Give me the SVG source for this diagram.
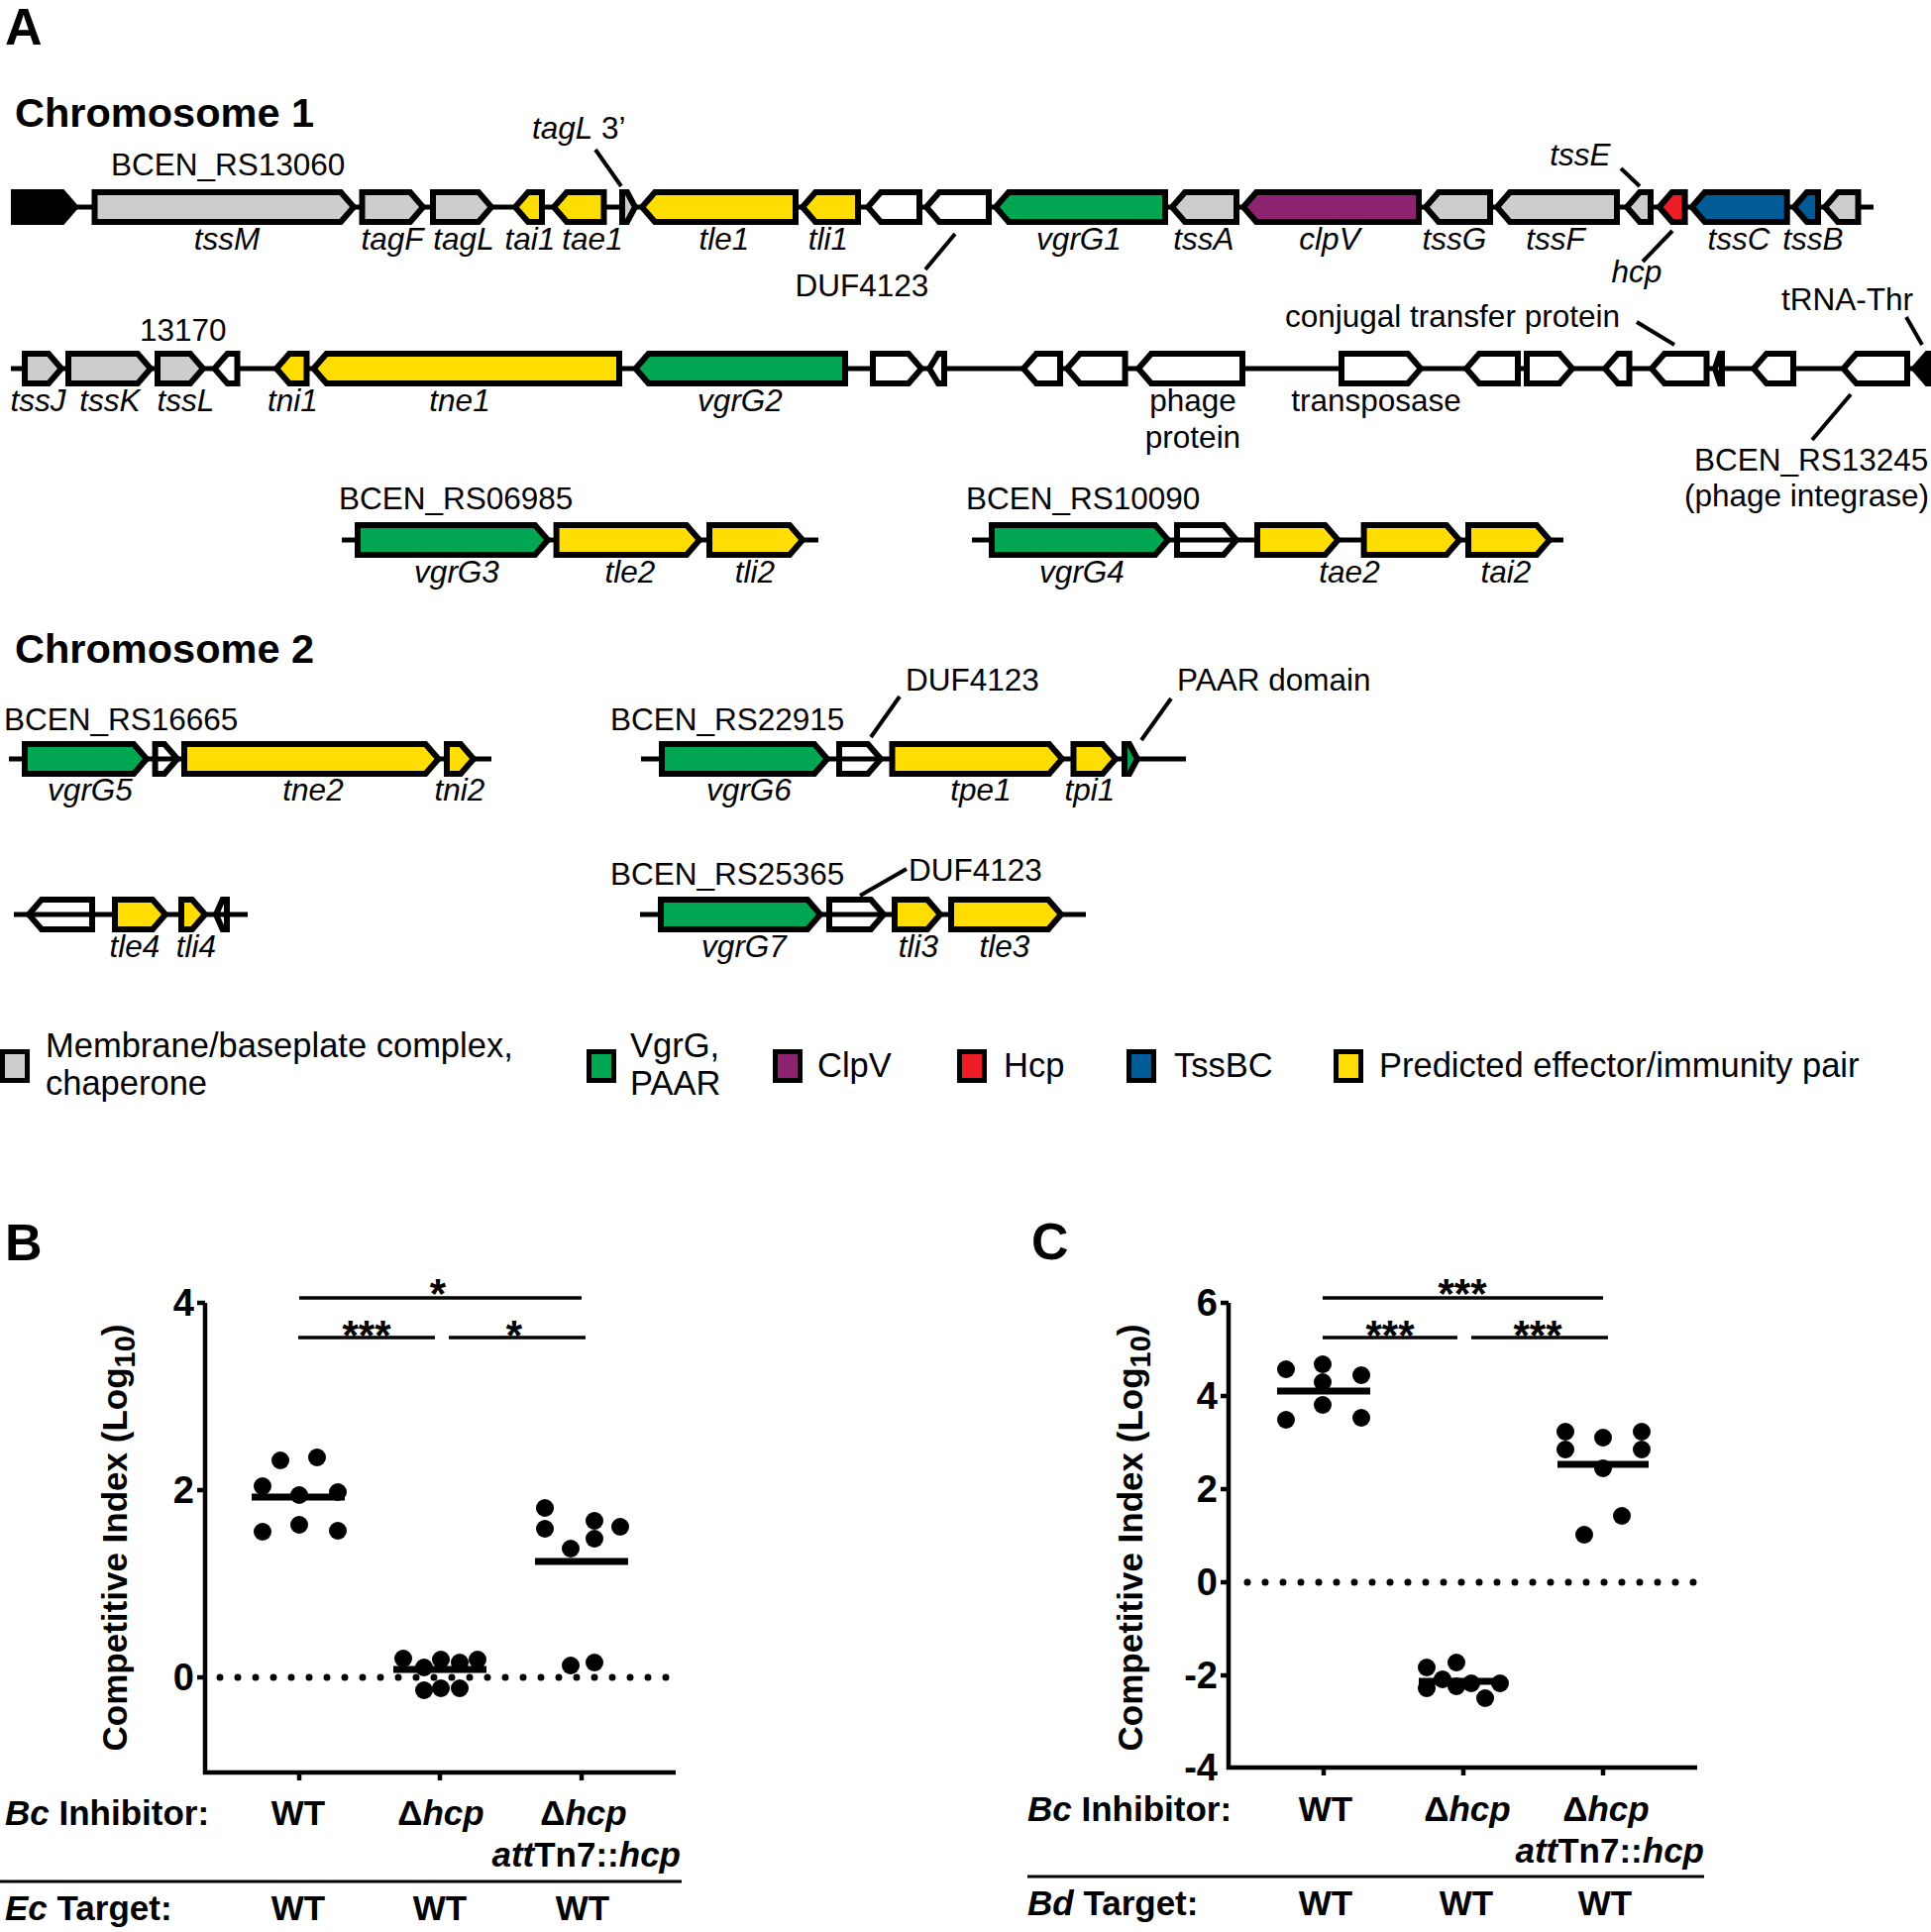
<svg xmlns="http://www.w3.org/2000/svg" width="1949" height="1950" viewBox="0 0 1949 1950">
<style>
.g{stroke:#000;stroke-width:6;stroke-linejoin:miter}
.gray{fill:#cdcdcd}.yel{fill:#ffdd00}.grn{fill:#00a651}.pur{fill:#8c2270}.red{fill:#ee1c25}.blu{fill:#005b96}.wht{fill:#fff}.hol{fill:none}.blk{fill:#000}
.bb{stroke:#000;stroke-width:5}
.lead{stroke:#000;stroke-width:4}
text{font-family:"Liberation Sans",Arial,sans-serif;fill:#000}
.lbl{font-size:31.5px}
.gl{font-size:31.5px;font-style:italic;text-anchor:middle}
.it{font-style:italic}
.hd{font-size:41.5px;font-weight:bold}
.pn{font-size:52px;font-weight:bold}
.lg{font-size:34.5px}
.ax{stroke:#000;stroke-width:4.5;fill:none}
.mean{stroke:#000;stroke-width:7}
.sig{stroke:#000;stroke-width:3.5}
.dot{stroke:#000;stroke-width:7;stroke-linecap:round;stroke-dasharray:0 18}
.pt{fill:#000}
.pl{font-size:35px;font-weight:bold}
.tk{font-size:38px;font-weight:bold;text-anchor:end}
.st{font-size:42px;font-weight:bold;text-anchor:middle}
.mid{text-anchor:middle}
.end{text-anchor:end}
.sw{stroke:#000;stroke-width:5}
</style>

<text class="pn" x="5" y="45" font-size="50">A</text>
<text class="hd" x="15" y="128">Chromosome 1</text>
<text class="hd" x="15" y="669" font-size="42.5">Chromosome 2</text>

<g id="backbones">
<line class="bb" x1="11" y1="209" x2="1891" y2="209"/>
<line class="bb" x1="11" y1="372" x2="1949" y2="372"/>
<line class="bb" x1="345" y1="545" x2="826" y2="545"/>
<line class="bb" x1="981" y1="545" x2="1578" y2="545"/>
<line class="bb" x1="9" y1="766" x2="496" y2="766"/>
<line class="bb" x1="647" y1="766" x2="1197" y2="766"/>
<line class="bb" x1="14" y1="923" x2="250" y2="923"/>
<line class="bb" x1="646" y1="923" x2="1096" y2="923"/>
</g>

<g id="row1">
<polygon id="r1-black" class="g blk" points="14,194 63,194 76,209 63,224 14,224"/>
<polygon id="tssM" class="g gray" points="95.5,194 344,194 357,209 344,224 95.5,224"/>
<polygon id="tagF" class="g gray" points="365.5,194 414,194 427,209 414,224 365.5,224"/>
<polygon id="tagL" class="g gray" points="437,194 483,194 496,209 483,224 437,224"/>
<polygon id="tai1" class="g yel" points="520,209 533,194 547,194 547,224 533,224"/>
<polygon id="tae1" class="g yel" points="559,209 572,194 609.5,194 609.5,224 572,224"/>
<polygon id="tagL3" class="g gray" points="628,194 633,194 641,209 633,224 628,224"/>
<polygon id="tle1" class="g yel" points="648,209 661,194 803,194 803,224 661,224"/>
<polygon id="tli1" class="g yel" points="810,209 823,194 866,194 866,224 823,224"/>
<polygon id="r1-w1" class="g wht" points="876,209 889,194 928,194 928,224 889,224"/>
<polygon id="duf1" class="g wht" points="935,209 948,194 998,194 998,224 948,224"/>
<polygon id="vgrG1" class="g grn" points="1005,209 1018,194 1176,194 1176,224 1018,224"/>
<polygon id="tssA" class="g gray" points="1183,209 1196,194 1248,194 1248,224 1196,224"/>
<polygon id="clpV" class="g pur" points="1255,209 1268,194 1432,194 1432,224 1268,224"/>
<polygon id="tssG" class="g gray" points="1439,209 1452,194 1504,194 1504,224 1452,224"/>
<polygon id="tssF" class="g gray" points="1511,209 1524,194 1632,194 1632,224 1524,224"/>
<polygon id="tssE" class="g gray" points="1642,209 1655,194 1666,194 1666,224 1655,224"/>
<polygon id="hcp" class="g red" points="1674.6,209 1687.6,194 1700.6,194 1700.6,224 1687.6,224"/>
<polygon id="tssC" class="g blu" points="1707.6,209 1720.6,194 1803.7,194 1803.7,224 1720.6,224"/>
<polygon id="tssB" class="g blu" points="1810.7,209 1823.7,194 1835,194 1835,224 1823.7,224"/>
<polygon id="r1-g" class="g gray" points="1842,209 1855,194 1875.5,194 1875.5,224 1855,224"/>
<text class="lbl" x="112" y="177">BCEN_RS13060</text>
<text class="lbl" x="537" y="140"><tspan class="it">tagL</tspan> 3’</text>
<text class="gl" x="229" y="252">tssM</text>
<text class="gl" x="396" y="252">tagF</text>
<text class="gl" x="468" y="252">tagL</text>
<text class="gl" x="535" y="252">tai1</text>
<text class="gl" x="598" y="252">tae1</text>
<text class="gl" x="731" y="252">tle1</text>
<text class="gl" x="836" y="252">tli1</text>
<text class="gl" x="1089" y="252">vgrG1</text>
<text class="gl" x="1215" y="252">tssA</text>
<text class="gl" x="1342" y="252">clpV</text>
<text class="gl" x="1468" y="252">tssG</text>
<text class="gl" x="1570" y="252">tssF</text>
<text class="gl" x="1755" y="252">tssC</text>
<text class="gl" x="1830" y="252">tssB</text>
<text class="gl" x="1595" y="167">tssE</text>
<text class="gl" x="1652" y="285">hcp</text>
<text class="lbl mid" x="870" y="299">DUF4123</text>
</g>

<g id="row2">
<polygon id="tssJ" class="g gray" points="25,357 49,357 62,372 49,387 25,387"/>
<polygon id="tssK" class="g gray" points="69,357 139,357 152,372 139,387 69,387"/>
<polygon id="tssL" class="g gray" points="159,357 192,357 205,372 192,387 159,387"/>
<polygon id="r2-w0" class="g wht" points="216.5,372 229.5,357 239.5,357 239.5,387 229.5,387"/>
<polygon id="tni1" class="g yel" points="279,372 292,357 309.5,357 309.5,387 292,387"/>
<polygon id="tne1" class="g yel" points="316.5,372 329.5,357 625,357 625,387 329.5,387"/>
<polygon id="vgrG2" class="g grn" points="641.5,372 654.5,357 853,357 853,387 654.5,387"/>
<polygon id="r2-w1" class="g wht" points="881,357 917,357 930,372 917,387 881,387"/>
<polygon id="r2-w2" class="g wht" points="938,372 947,357 953,357 953,387 947,387"/>
<polygon id="r2-w3" class="g wht" points="1033,372 1046,357 1070,357 1070,387 1046,387"/>
<polygon id="r2-w4" class="g wht" points="1077,372 1090,357 1135.6,357 1135.6,387 1090,387"/>
<polygon id="phage" class="g wht" points="1149,372 1162,357 1254,357 1254,387 1162,387"/>
<polygon id="transposase" class="g wht" points="1354,357 1421,357 1434,372 1421,387 1354,387"/>
<polygon id="r2-w5" class="g wht" points="1480,372 1493,357 1532,357 1532,387 1493,387"/>
<polygon id="r2-w6" class="g wht" points="1541,357 1574,357 1587,372 1574,387 1541,387"/>
<polygon id="r2-w7" class="g wht" points="1620,372 1633,357 1644.5,357 1644.5,387 1633,387"/>
<polygon id="conjugal" class="g wht" points="1667,372 1680,357 1722.5,357 1722.5,387 1680,387"/>
<polygon id="r2-w8" class="g wht" points="1731,372 1736,357 1738,357 1738,387 1736,387"/>
<polygon id="r2-w9" class="g wht" points="1770,372 1783,357 1810,357 1810,387 1783,387"/>
<polygon id="RS13245" class="g wht" points="1860.6,372 1873.6,357 1925,357 1925,387 1873.6,387"/>
<polygon id="tRNA" class="g blk" points="1932,372 1945,357 1960,357 1960,387 1945,387"/>
<text class="lbl" x="141" y="344">13170</text>
<text class="gl" x="38.5" y="415">tssJ</text>
<text class="gl" x="111" y="415">tssK</text>
<text class="gl" x="187.5" y="415">tssL</text>
<text class="gl" x="295.5" y="415">tni1</text>
<text class="gl" x="464" y="415">tne1</text>
<text class="gl" x="747" y="415">vgrG2</text>
<text class="lbl mid" x="1204" y="415">phage</text>
<text class="lbl mid" x="1204" y="452">protein</text>
<text class="lbl mid" x="1389" y="415">transposase</text>
<text class="lbl" x="1297" y="330">conjugal transfer protein</text>
<text class="lbl" x="1798" y="313">tRNA-Thr</text>
<text class="lbl" x="1710" y="475">BCEN_RS13245</text>
<text class="lbl" x="1700" y="511">(phage integrase)</text>
</g>

<g id="row3">
<polygon id="vgrG3" class="g grn" points="361,530 540,530 553,545 540,560 361,560"/>
<polygon id="tle2" class="g yel" points="561.6,530 693,530 706,545 693,560 561.6,560"/>
<polygon id="tli2" class="g yel" points="716,530 797,530 810,545 797,560 716,560"/>
<polygon id="vgrG4" class="g grn" points="1001,530 1166,530 1179,545 1166,560 1001,560"/>
<polygon id="r3-h" class="g hol" points="1188,530 1235,530 1248,545 1235,560 1188,560"/>
<polygon id="tae2" class="g yel" points="1269,530 1337.5,530 1350.5,545 1337.5,560 1269,560"/>
<polygon id="r3-y" class="g yel" points="1376.6,530 1460,530 1473,545 1460,560 1376.6,560"/>
<polygon id="tai2" class="g yel" points="1482,530 1551,530 1564,545 1551,560 1482,560"/>
<text class="lbl" x="342" y="514">BCEN_RS06985</text>
<text class="lbl" x="975" y="514">BCEN_RS10090</text>
<text class="gl" x="461" y="588">vgrG3</text>
<text class="gl" x="636" y="588">tle2</text>
<text class="gl" x="762" y="588">tli2</text>
<text class="gl" x="1092" y="588">vgrG4</text>
<text class="gl" x="1362" y="588">tae2</text>
<text class="gl" x="1520" y="588">tai2</text>
</g>

<g id="chr2row1">
<polygon id="vgrG5" class="g grn" points="25,751 135,751 148,766 135,781 25,781"/>
<polygon id="c2-h1" class="g hol" points="156.6,751 166,751 179,766 166,781 156.6,781"/>
<polygon id="tne2" class="g yel" points="186,751 429.5,751 442.5,766 429.5,781 186,781"/>
<polygon id="tni2" class="g yel" points="451,751 465,751 478,766 465,781 451,781"/>
<polygon id="vgrG6" class="g grn" points="668,751 822,751 835,766 822,781 668,781"/>
<polygon id="c2-duf" class="g hol" points="847,751 876,751 889,766 876,781 847,781"/>
<polygon id="tpe1" class="g yel" points="900.5,751 1059,751 1072,766 1059,781 900.5,781"/>
<polygon id="tpi1" class="g yel" points="1083.5,751 1113,751 1126,766 1113,781 1083.5,781"/>
<polygon id="paar" class="g grn" points="1135,751 1140,751 1148,766 1140,781 1135,781"/>
<text class="lbl" x="4" y="737">BCEN_RS16665</text>
<text class="lbl" x="616" y="737">BCEN_RS22915</text>
<text class="lbl" x="914" y="697">DUF4123</text>
<text class="lbl" x="1188" y="697">PAAR domain</text>
<text class="gl" x="91" y="808">vgrG5</text>
<text class="gl" x="316" y="808">tne2</text>
<text class="gl" x="464" y="808">tni2</text>
<text class="gl" x="756" y="808">vgrG6</text>
<text class="gl" x="990" y="808">tpe1</text>
<text class="gl" x="1100" y="808">tpi1</text>
</g>

<g id="chr2row2">
<polygon id="r4-h1" class="g hol" points="29,923 42,908 93,908 93,938 42,938"/>
<polygon id="tle4" class="g yel" points="116,908 154,908 167,923 154,938 116,938"/>
<polygon id="tli4" class="g yel" points="183,908 194,908 207,923 194,938 183,938"/>
<polygon id="r4-h2" class="g hol" points="218,923 224.6,908 229,908 229,938 224.6,938"/>
<polygon id="vgrG7" class="g grn" points="667,908 815,908 828,923 815,938 667,938"/>
<polygon id="r4-duf" class="g hol" points="837,908 879,908 892,923 879,938 837,938"/>
<polygon id="tli3" class="g yel" points="903,908 936,908 949,923 936,938 903,938"/>
<polygon id="tle3" class="g yel" points="960,908 1058,908 1071,923 1058,938 960,938"/>
<text class="lbl" x="616" y="893">BCEN_RS25365</text>
<text class="lbl" x="917" y="889">DUF4123</text>
<text class="gl" x="136" y="966">tle4</text>
<text class="gl" x="198" y="966">tli4</text>
<text class="gl" x="751" y="966">vgrG7</text>
<text class="gl" x="927" y="966">tli3</text>
<text class="gl" x="1014" y="966">tle3</text>
</g>

<g id="connectors">
<line class="lead" x1="601" y1="151" x2="627" y2="188"/>
<line class="lead" x1="964" y1="236" x2="934" y2="272"/>
<line class="lead" x1="1636" y1="170" x2="1655" y2="188"/>
<line class="lead" x1="1688" y1="233" x2="1658" y2="264"/>
<line class="lead" x1="1652" y1="325" x2="1690" y2="348"/>
<line class="lead" x1="1924" y1="320" x2="1940" y2="348"/>
<line class="lead" x1="1868" y1="398" x2="1829" y2="444"/>
<line class="lead" x1="908" y1="703" x2="879" y2="744"/>
<line class="lead" x1="1182" y1="705" x2="1152" y2="747"/>
<line class="lead" x1="915" y1="877" x2="868" y2="904"/>
</g>

<g id="legend">
<rect class="sw gray" x="2.5" y="1061.5" width="25" height="29"/>
<text class="lg" x="46" y="1067">Membrane/baseplate complex,</text>
<text class="lg" x="46" y="1105">chaperone</text>
<rect class="sw grn" x="594.5" y="1061.5" width="25" height="29"/>
<text class="lg" x="636" y="1067">VgrG,</text>
<text class="lg" x="636" y="1105">PAAR</text>
<rect class="sw pur" x="782.5" y="1061.5" width="25" height="29"/>
<text class="lg" x="825" y="1087">ClpV</text>
<rect class="sw red" x="968.5" y="1061.5" width="25" height="29"/>
<text class="lg" x="1013" y="1087">Hcp</text>
<rect class="sw blu" x="1139.5" y="1061.5" width="25" height="29"/>
<text class="lg" x="1185" y="1087">TssBC</text>
<rect class="sw yel" x="1348.5" y="1061.5" width="25" height="29"/>
<text class="lg" x="1392" y="1087">Predicted effector/immunity pair</text>
</g>

<g id="panelB">
<text class="pn" x="5" y="1272">B</text>
<polyline class="ax" points="207,1315 207,1789 682,1789"/>
<line class="ax" x1="199" y1="1315" x2="207" y2="1315"/>
<line class="ax" x1="199" y1="1504" x2="207" y2="1504"/>
<line class="ax" x1="199" y1="1693" x2="207" y2="1693"/>
<line class="ax" x1="302" y1="1789" x2="302" y2="1797"/>
<line class="ax" x1="444" y1="1789" x2="444" y2="1797"/>
<line class="ax" x1="587" y1="1789" x2="587" y2="1797"/>
<text class="tk" x="196" y="1328">4</text>
<text class="tk" x="196" y="1517">2</text>
<text class="tk" x="196" y="1706">0</text>
<text class="pl mid" transform="translate(128,1552) rotate(-90)" font-size="44.5">Competitive Index (Log<tspan font-size="29" dy="8">10</tspan><tspan dy="-8">)</tspan></text>
<line class="dot" x1="222" y1="1693" x2="682" y2="1693"/>
<g class="pt">
<circle cx="265" cy="1500" r="9"/><circle cx="283" cy="1474" r="9"/><circle cx="320" cy="1471" r="9"/><circle cx="341" cy="1506" r="9"/><circle cx="302" cy="1509" r="9"/><circle cx="265" cy="1546" r="9"/><circle cx="302" cy="1539" r="9"/><circle cx="341" cy="1545" r="9"/>
<circle cx="407" cy="1674" r="9"/><circle cx="428" cy="1683" r="9"/><circle cx="445" cy="1675" r="9"/><circle cx="464" cy="1678" r="9"/><circle cx="482" cy="1675" r="9"/><circle cx="428" cy="1706" r="9"/><circle cx="445" cy="1704" r="9"/><circle cx="464" cy="1704" r="9"/>
<circle cx="550" cy="1522" r="9"/><circle cx="550" cy="1543" r="9"/><circle cx="576" cy="1563" r="9"/><circle cx="600" cy="1535" r="9"/><circle cx="600" cy="1553" r="9"/><circle cx="626" cy="1541" r="9"/><circle cx="576" cy="1681" r="9"/><circle cx="600" cy="1678" r="9"/>
</g>
<line class="mean" x1="254" y1="1511" x2="348" y2="1511"/>
<line class="mean" x1="397" y1="1685" x2="491" y2="1685"/>
<line class="mean" x1="540" y1="1576" x2="634" y2="1576"/>
<line class="sig" x1="302" y1="1310" x2="587" y2="1310"/>
<line class="sig" x1="301" y1="1350" x2="439" y2="1350"/>
<line class="sig" x1="453" y1="1350" x2="591" y2="1350"/>
<text class="st" x="442" y="1320">*</text>
<text class="st" x="370" y="1362">***</text>
<text class="st" x="519" y="1362">*</text>
<text class="pl" x="5" y="1842"><tspan class="it">Bc</tspan> Inhibitor:</text>
<text class="pl mid" x="301" y="1842">WT</text>
<text class="pl mid" x="445" y="1842">Δ<tspan class="it">hcp</tspan></text>
<text class="pl mid" x="589" y="1842">Δ<tspan class="it">hcp</tspan></text>
<text class="pl end" x="687" y="1884"><tspan class="it">att</tspan>Tn7::<tspan class="it">hcp</tspan></text>
<line stroke="#000" stroke-width="3" x1="0" y1="1899" x2="688" y2="1899"/>
<text class="pl" x="5" y="1938"><tspan class="it">Ec</tspan> Target:</text>
<text class="pl mid" x="301" y="1938">WT</text>
<text class="pl mid" x="444" y="1938">WT</text>
<text class="pl mid" x="588" y="1938">WT</text>
</g>

<g id="panelC">
<text class="pn" x="1041" y="1271">C</text>
<polyline class="ax" points="1240,1315 1240,1784 1713,1784"/>
<line class="ax" x1="1232" y1="1315" x2="1240" y2="1315"/>
<line class="ax" x1="1232" y1="1409" x2="1240" y2="1409"/>
<line class="ax" x1="1232" y1="1503" x2="1240" y2="1503"/>
<line class="ax" x1="1232" y1="1597" x2="1240" y2="1597"/>
<line class="ax" x1="1232" y1="1691" x2="1240" y2="1691"/>
<line class="ax" x1="1336" y1="1784" x2="1336" y2="1792"/>
<line class="ax" x1="1477" y1="1784" x2="1477" y2="1792"/>
<line class="ax" x1="1618" y1="1784" x2="1618" y2="1792"/>
<text class="tk" x="1229" y="1328">6</text>
<text class="tk" x="1229" y="1422">4</text>
<text class="tk" x="1229" y="1516">2</text>
<text class="tk" x="1229" y="1610">0</text>
<text class="tk" x="1229" y="1704">-2</text>
<text class="tk" x="1229" y="1797">-4</text>
<text class="pl mid" transform="translate(1153,1552) rotate(-90)" font-size="44.5">Competitive Index (Log<tspan font-size="29" dy="8">10</tspan><tspan dy="-8">)</tspan></text>
<line class="dot" x1="1259" y1="1597" x2="1713" y2="1597"/>
<g class="pt">
<circle cx="1298" cy="1382" r="9"/><circle cx="1335" cy="1377" r="9"/><circle cx="1374" cy="1388" r="9"/><circle cx="1335" cy="1395" r="9"/><circle cx="1298" cy="1433" r="9"/><circle cx="1335" cy="1418" r="9"/><circle cx="1374" cy="1431" r="9"/>
<circle cx="1440" cy="1683" r="9"/><circle cx="1440" cy="1704" r="9"/><circle cx="1470" cy="1678" r="9"/><circle cx="1456" cy="1695" r="9"/><circle cx="1485" cy="1699" r="9"/><circle cx="1499" cy="1714" r="9"/><circle cx="1514" cy="1699" r="9"/><circle cx="1470" cy="1702" r="9"/>
<circle cx="1580" cy="1445" r="9"/><circle cx="1580" cy="1463" r="9"/><circle cx="1618" cy="1451" r="9"/><circle cx="1618" cy="1482" r="9"/><circle cx="1657" cy="1445" r="9"/><circle cx="1657" cy="1463" r="9"/><circle cx="1637" cy="1530" r="9"/><circle cx="1599" cy="1549" r="9"/>
</g>
<line class="mean" x1="1289" y1="1404" x2="1383" y2="1404"/>
<line class="mean" x1="1432" y1="1697" x2="1521" y2="1697"/>
<line class="mean" x1="1572" y1="1478" x2="1664" y2="1478"/>
<line class="sig" x1="1335" y1="1310" x2="1618" y2="1310"/>
<line class="sig" x1="1335" y1="1350" x2="1471" y2="1350"/>
<line class="sig" x1="1485" y1="1350" x2="1623" y2="1350"/>
<text class="st" x="1476" y="1320">***</text>
<text class="st" x="1403" y="1362">***</text>
<text class="st" x="1552" y="1362">***</text>
<text class="pl" x="1037" y="1838"><tspan class="it">Bc</tspan> Inhibitor:</text>
<text class="pl mid" x="1338" y="1838">WT</text>
<text class="pl mid" x="1481" y="1838">Δ<tspan class="it">hcp</tspan></text>
<text class="pl mid" x="1621" y="1838">Δ<tspan class="it">hcp</tspan></text>
<text class="pl end" x="1720" y="1880"><tspan class="it">att</tspan>Tn7::<tspan class="it">hcp</tspan></text>
<line stroke="#000" stroke-width="3" x1="1037" y1="1894" x2="1720" y2="1894"/>
<text class="pl" x="1037" y="1933"><tspan class="it">Bd</tspan> Target:</text>
<text class="pl mid" x="1338" y="1933">WT</text>
<text class="pl mid" x="1480" y="1933">WT</text>
<text class="pl mid" x="1620" y="1933">WT</text>
</g>
</svg>
